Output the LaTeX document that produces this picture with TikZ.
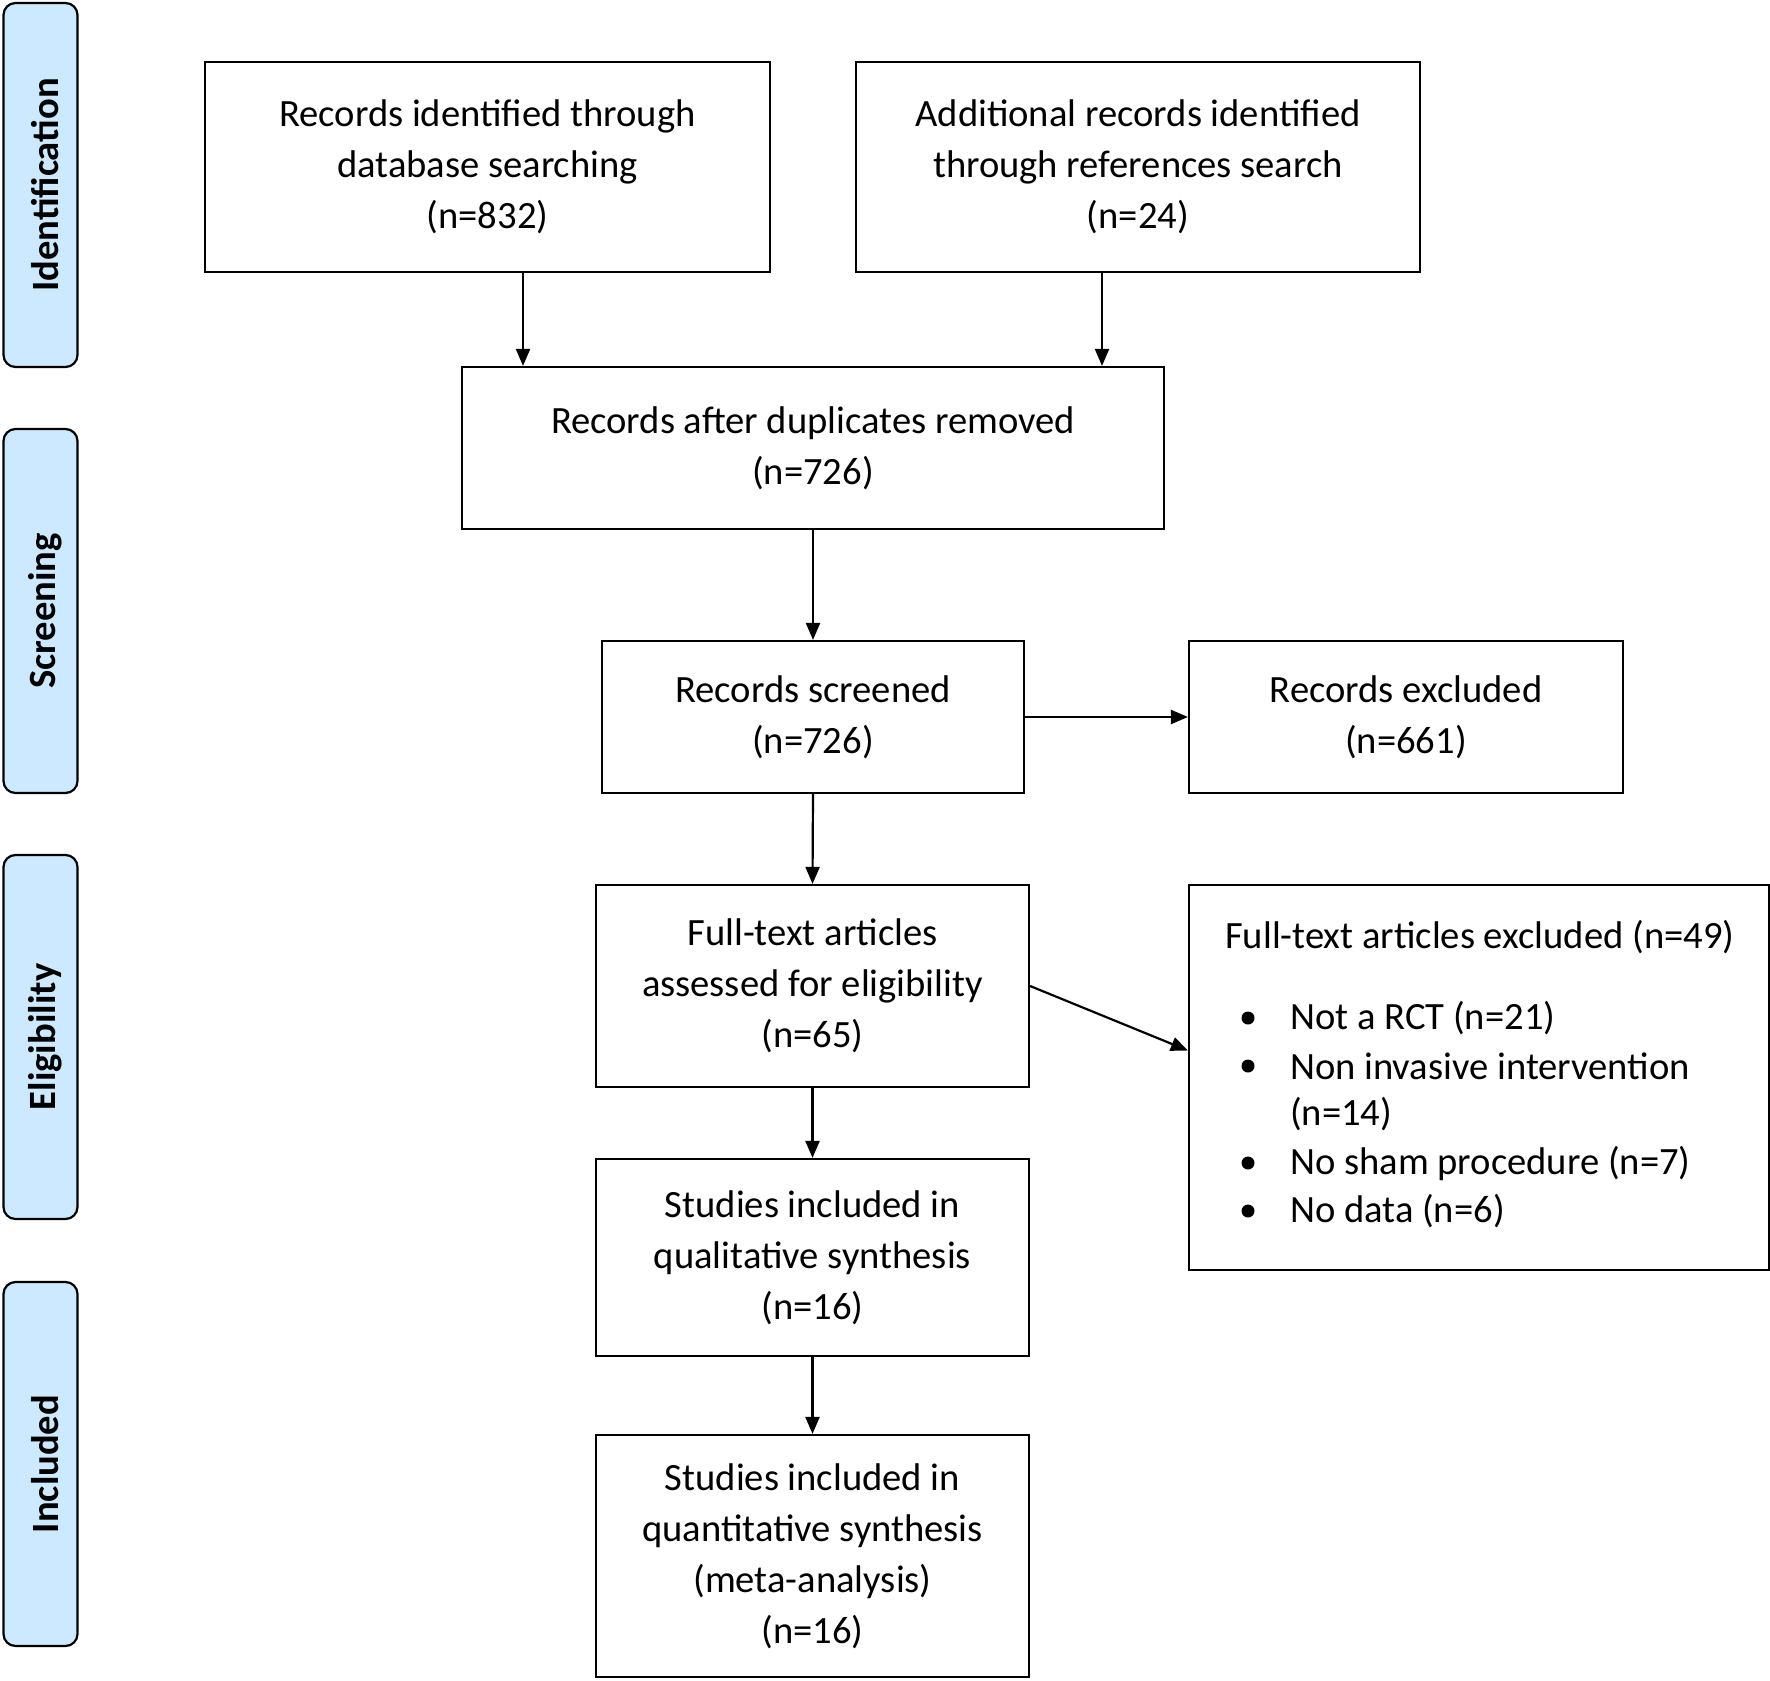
\documentclass[tikz,border=0pt]{standalone}
\usepackage{fontspec}
\setmainfont{Carlito}
\usetikzlibrary{arrows.meta,calc}
\definecolor{barblue}{HTML}{CCE9FF}
\begin{document}
\begin{tikzpicture}[x=1pt,y=-1pt,
  box/.style={draw,line width=2.2pt,align=center,inner sep=0pt,
    font=\fontsize{38.6}{51}\selectfont},
  bar/.style={draw,line width=2.2pt,fill=barblue,rounded corners=12pt,
    minimum width=74pt,minimum height=364pt,inner sep=0pt},
  barlabel/.style={rotate=90,font=\fontsize{38.6}{46}\selectfont\bfseries,inner sep=0pt},
  arr/.style={line width=2.2pt,-{Triangle[length=17pt,width=14pt]}},
  item/.style={anchor=west,inner sep=0pt,font=\fontsize{38.6}{51}\selectfont}
]
\useasboundingbox (0,0) rectangle (1770,1681);
% side bars
\node[bar] (b1) at (40.5,185) {};
\node[bar] (b2) at (40.5,611) {};
\node[bar] (b3) at (40.5,1037) {};
\node[bar] (b4) at (40.5,1464) {};
\node[barlabel] (l1) at ($(b1.center)+(5,0)$) {Identification};
\node[barlabel] (l2) at ($(b2.center)+(5,0)$) {Screening};
\node[barlabel] (l3) at ($(b3.center)+(5,0)$) {Eligibility};
\node[barlabel] (l4) at ($(b4.center)+(5,0)$) {Included};
% boxes
\node[box,minimum width=565pt,minimum height=210pt] (A) at (487.5,167)
  {Records identified through\\database searching\\(n=832)};
\node[box,minimum width=564pt,minimum height=210pt] (B) at (1138,167)
  {Additional records identified\\through references search\\(n=24)};
\node[box,minimum width=702pt,minimum height=162pt] (C) at (813,448)
  {Records after duplicates removed\\(n=726)};
\node[box,minimum width=422pt,minimum height=152pt] (D) at (813,717)
  {Records screened\\(n=726)};
\node[box,minimum width=434pt,minimum height=152pt] (E) at (1406,717)
  {Records excluded\\(n=661)};
\node[box,minimum width=433pt,minimum height=202pt] (F) at (812.5,986)
  {Full-text articles\\assessed for eligibility\\(n=65)};
\node[box,minimum width=580pt,minimum height=385pt] (G) at (1479,1077.5) {};
\node[box,minimum width=433pt,minimum height=197pt] (H) at (812.5,1257.5)
  {Studies included in\\qualitative synthesis\\(n=16)};
\node[box,minimum width=433pt,minimum height=242pt] (I) at (812.5,1556)
  {Studies included in\\quantitative synthesis\\(meta-analysis)\\(n=16)};
% exclusion list
\node[item] (g0) at (1225,937) {Full-text articles excluded (n=49)};
\node[item] (g1) at (1290,1018) {Not a RCT (n=21)};
\node[item] (g2) at (1290,1066) {Non invasive intervention};
\node[item] (g3) at (1290,1114) {(n=14)};
\node[item] (g4) at (1290,1163) {No sham procedure (n=7)};
\node[item] (g5) at (1290,1211) {No data (n=6)};
\foreach \yy in {1018,1066,1163,1211} \fill (1248,\yy) circle (6.5pt);
% arrows
\draw[arr] (A.south -| 523,0) -- (C.north -| 523,0);
\draw[arr] (B.south -| 1102,0) -- (C.north -| 1102,0);
\draw[arr] (C.south -| D.north) -- (D.north);
\draw[arr] (D.east) -- (E.west);
\draw[arr] (D.south) -- (F.north);
\draw[arr] (F.east) -- ($(G.west)+(0,-27)$);
\draw[arr] (F.south) -- (H.north);
\draw[arr] (H.south) -- (I.north);
\end{tikzpicture}
\end{document}
